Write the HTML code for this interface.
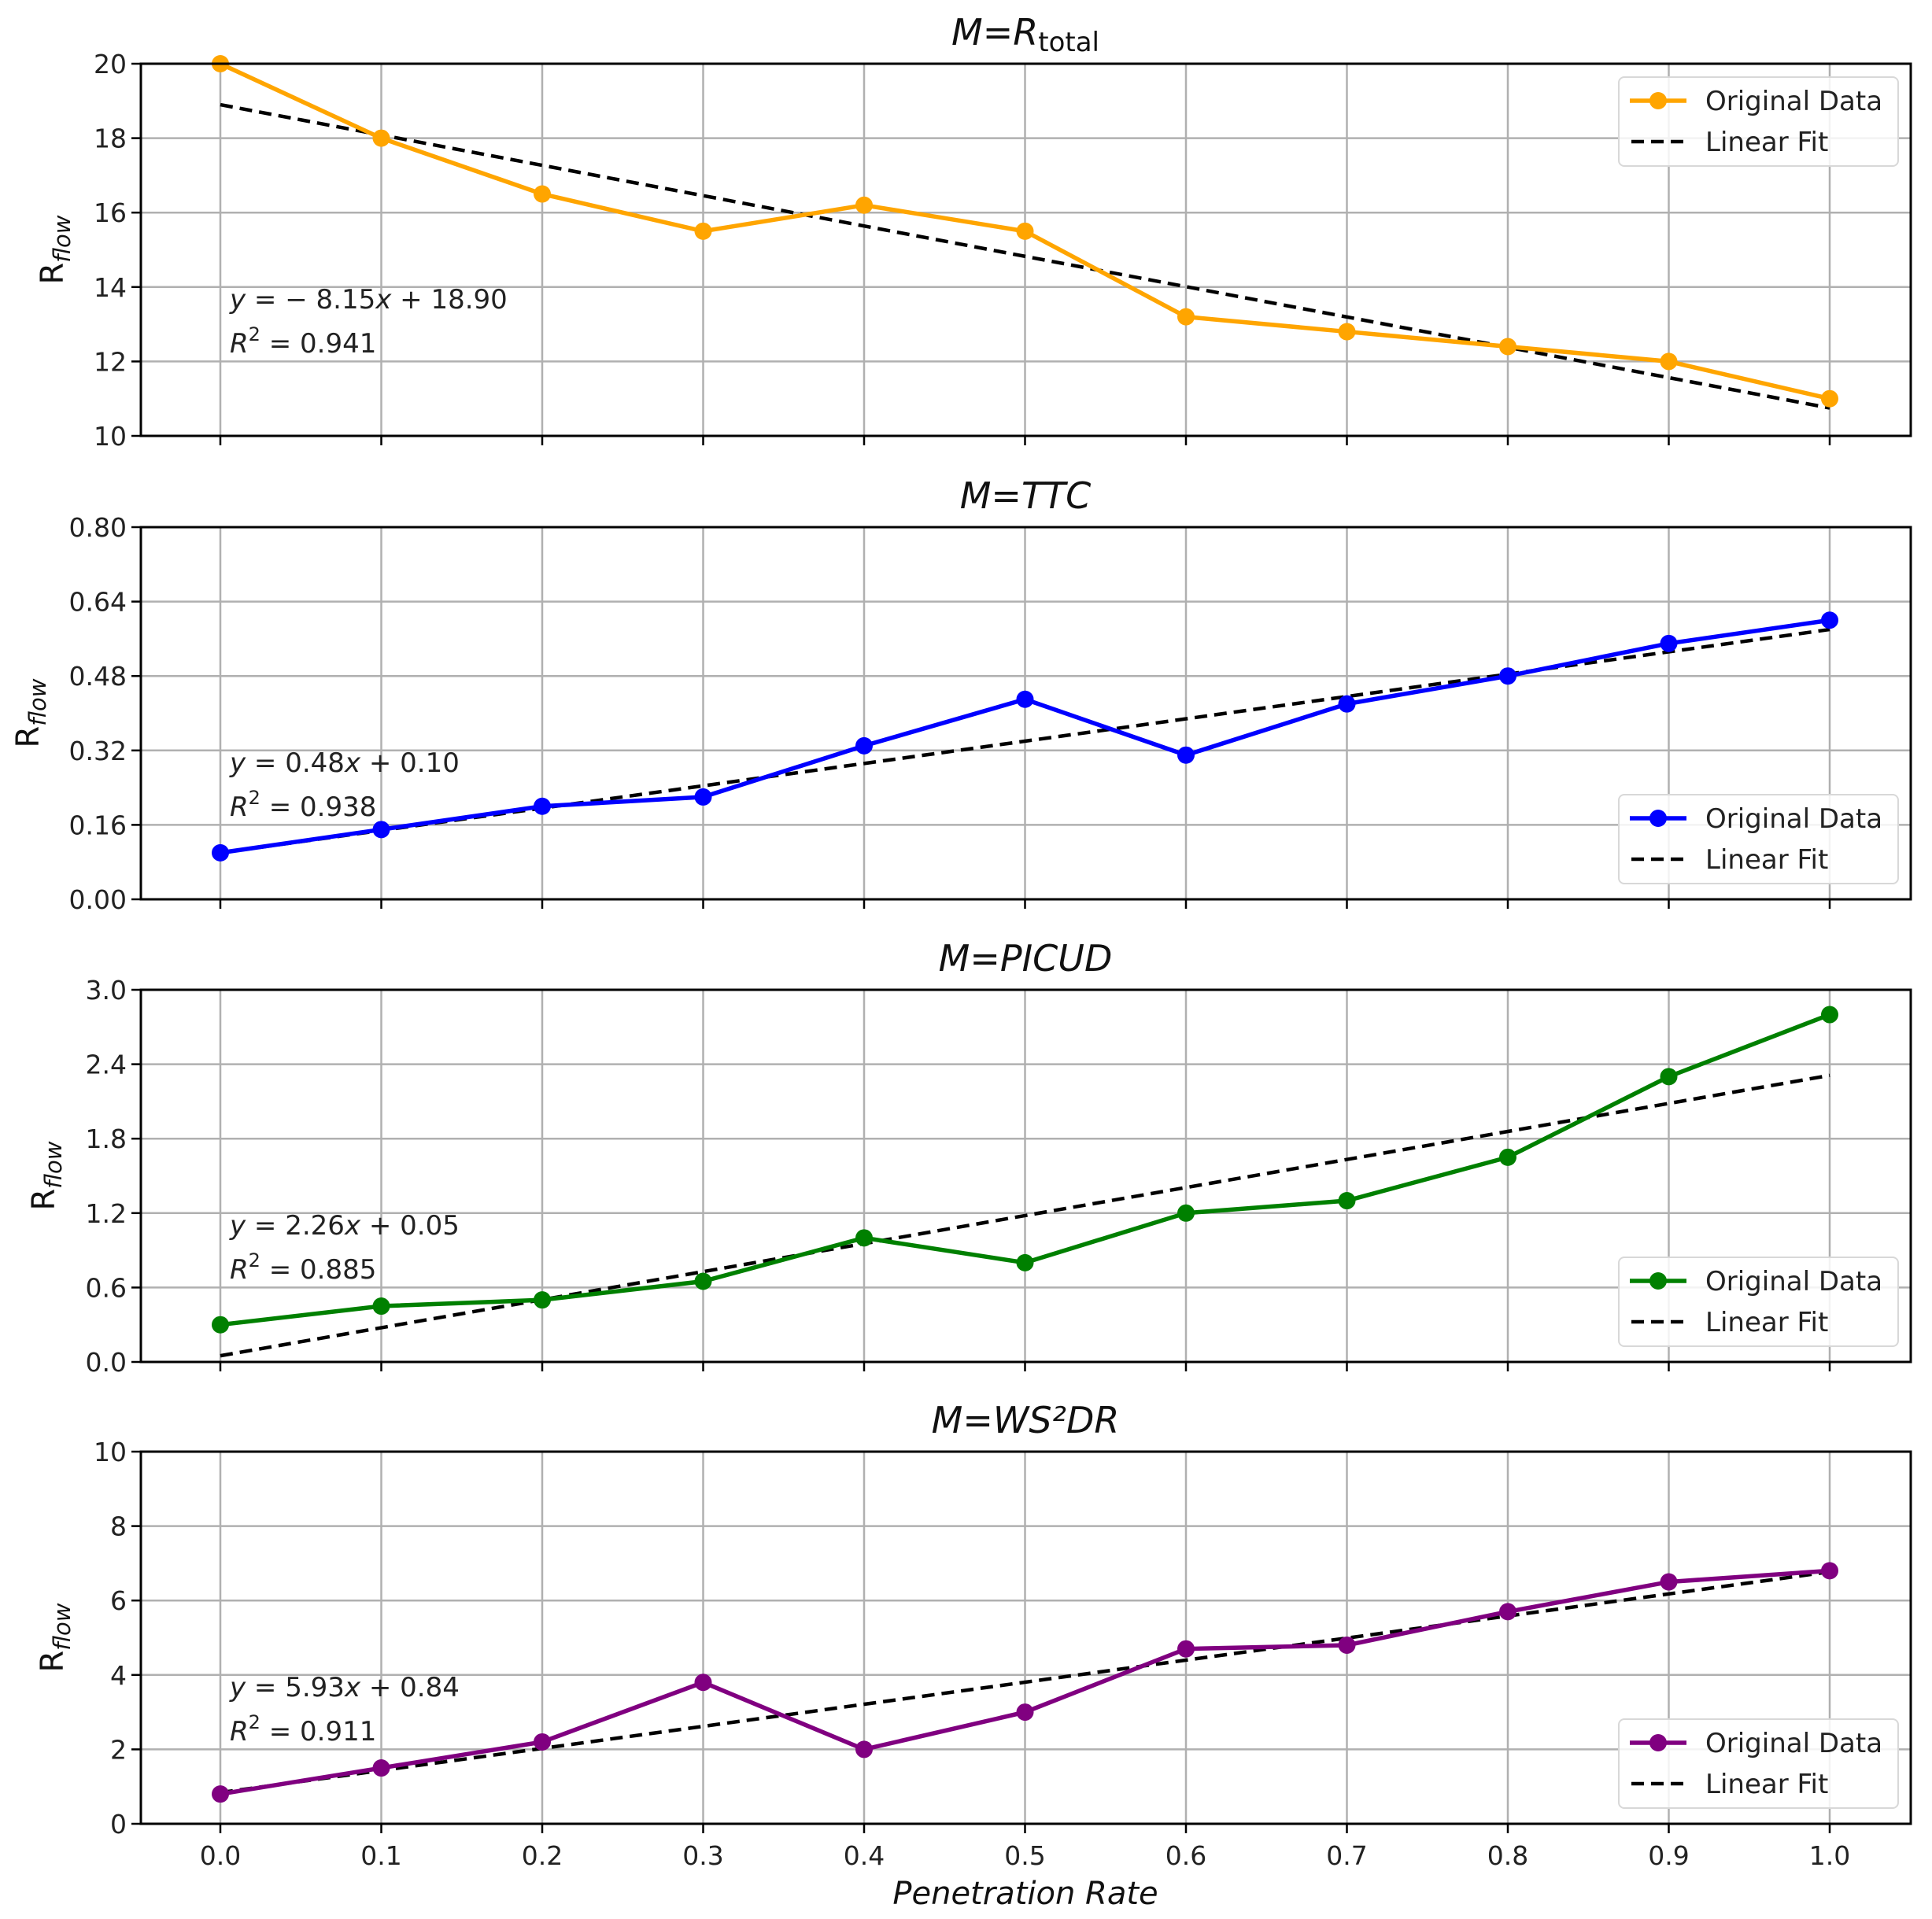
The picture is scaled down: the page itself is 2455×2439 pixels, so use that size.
<!DOCTYPE html>
<html><head><meta charset="utf-8"><style>
html,body{margin:0;padding:0;background:#fff;}
svg{display:block;font-family:"DejaVu Sans","Liberation Sans",sans-serif;}
</style></head><body>
<svg id="s" width="2455" height="2439" viewBox="0 0 2455 2439" xmlns="http://www.w3.org/2000/svg"></svg>
<script>
const S=document.getElementById('s');
let h='';
const L=179,R=2428,X0=280,XS=2045;
const xs=[0,.1,.2,.3,.4,.5,.6,.7,.8,.9,1];
const P=[
 {top:81,min:10,max:20,ticks:[10,12,14,16,18,20],fmt:v=>v.toFixed(0),d:[20,18,16.5,15.5,16.2,15.5,13.2,12.8,12.4,12.0,11.0],m:-8.15,b:18.90,c:'#FFA500',eq:'<tspan font-style="italic">y</tspan> = \u2212 8.15<tspan font-style="italic">x</tspan> + 18.90',r2:'0.941',title:'t1',leg:'top',yl:68},
 {top:670,min:0,max:0.8,ticks:[0,.16,.32,.48,.64,.8],fmt:v=>v.toFixed(2),d:[.10,.15,.20,.22,.33,.43,.31,.42,.48,.55,.60],m:.48,b:.10,c:'#0000FF',eq:'<tspan font-style="italic">y</tspan> = 0.48<tspan font-style="italic">x</tspan> + 0.10',r2:'0.938',title:'M=TTC',leg:'bot',yl:37},
 {top:1258,min:0,max:3,ticks:[0,.6,1.2,1.8,2.4,3.0],fmt:v=>v.toFixed(1),d:[.3,.45,.5,.65,1.0,.8,1.2,1.3,1.65,2.3,2.8],m:2.26,b:.05,c:'#008000',eq:'<tspan font-style="italic">y</tspan> = 2.26<tspan font-style="italic">x</tspan> + 0.05',r2:'0.885',title:'M=PICUD',leg:'bot',yl:57},
 {top:1845,min:0,max:10,ticks:[0,2,4,6,8,10],fmt:v=>v.toFixed(0),d:[.8,1.5,2.2,3.8,2.0,3.0,4.7,4.8,5.7,6.5,6.8],m:5.93,b:.84,c:'#800080',eq:'<tspan font-style="italic">y</tspan> = 5.93<tspan font-style="italic">x</tspan> + 0.84',r2:'0.911',title:'M=WS\u00b2DR',leg:'bot',yl:68}
];
const H=473;
P.forEach((p,i)=>{
 const B=p.top+H;
 const Y=v=>B-(v-p.min)/(p.max-p.min)*H;
 const X=x=>X0+x*XS;
 xs.forEach(x=>{h+=`<line x1="${X(x)}" y1="${p.top}" x2="${X(x)}" y2="${B}" stroke="#b0b0b0" stroke-width="2.5"/>`;
   h+=`<line x1="${X(x)}" y1="${B}" x2="${X(x)}" y2="${B+12}" stroke="#000" stroke-width="2.5"/>`;});
 p.ticks.forEach(t=>{h+=`<line x1="${L}" y1="${Y(t)}" x2="${R}" y2="${Y(t)}" stroke="#b0b0b0" stroke-width="2.5"/>`;
   h+=`<line x1="${L-12}" y1="${Y(t)}" x2="${L}" y2="${Y(t)}" stroke="#000" stroke-width="2.5"/>`;
   h+=`<text x="${L-18}" y="${Y(t)+12}" font-size="33" text-anchor="end" fill="#222">${p.fmt(t)}</text>`;});
 h+=`<line x1="${X(0)}" y1="${Y(p.b)}" x2="${X(1)}" y2="${Y(p.m+p.b)}" stroke="#000" stroke-width="4.5" stroke-dasharray="16,9"/>`;
 h+=`<polyline fill="none" stroke="${p.c}" stroke-width="5.5" points="${p.d.map((v,k)=>X(xs[k])+','+Y(v)).join(' ')}"/>`;
 p.d.forEach((v,k)=>{h+=`<circle cx="${X(xs[k])}" cy="${Y(v)}" r="11" fill="${p.c}"/>`;});
 h+=`<rect x="${L}" y="${p.top}" width="${R-L}" height="${H}" fill="none" stroke="#000" stroke-width="3"/>`;
 h+=`<text x="292" y="${p.top+311}" font-size="34" fill="#222">${p.eq}</text>`;
 h+=`<text x="292" y="${p.top+367}" font-size="34" fill="#222"><tspan font-style="italic">R</tspan><tspan font-size="24" dy="-15">2</tspan><tspan dy="15"> = ${p.r2}</tspan></text>`;
 const ly=p.leg=='top'?p.top+17:p.top+340;
 h+=`<rect x="2057" y="${ly}" width="355" height="113" rx="7" fill="#fff" fill-opacity="0.85" stroke="#d8d8d8" stroke-width="2"/>`;
 h+=`<line x1="2071" y1="${ly+30}" x2="2143" y2="${ly+30}" stroke="${p.c}" stroke-width="5.5"/><circle cx="2107" cy="${ly+30}" r="11" fill="${p.c}"/>`;
 h+=`<text x="2167" y="${ly+42}" font-size="34" fill="#222">Original Data</text>`;
 h+=`<line x1="2073" y1="${ly+82}" x2="2143" y2="${ly+82}" stroke="#000" stroke-width="4.5" stroke-dasharray="16,9"/>`;
 h+=`<text x="2167" y="${ly+94}" font-size="34" fill="#222">Linear Fit</text>`;
 if(i==0) h+=`<text x="1303" y="${p.top-24}" font-size="46" text-anchor="middle" fill="#111"><tspan font-style="italic">M</tspan>=<tspan font-style="italic">R</tspan><tspan font-size="34" dy="8">total</tspan></text>`;
 else h+=`<text x="1303" y="${p.top-24}" font-size="46" text-anchor="middle" fill="#111" font-style="italic">${p.title}</text>`;
 const cy=p.top+H/2;
 h+=`<text transform="translate(${p.yl+12},${cy}) rotate(-90)" font-size="40" text-anchor="middle" fill="#111">R<tspan font-size="29" font-style="italic" dy="9">flow</tspan></text>`;
 if(i==3){xs.forEach(x=>{h+=`<text x="${X(x)}" y="2370" font-size="33" text-anchor="middle" fill="#222">${x.toFixed(1)}</text>`;});}
});
h+=`<text x="1303" y="2420" font-size="40" text-anchor="middle" fill="#111" font-style="italic">Penetration Rate</text>`;
S.innerHTML=h;
</script>
</body></html>
